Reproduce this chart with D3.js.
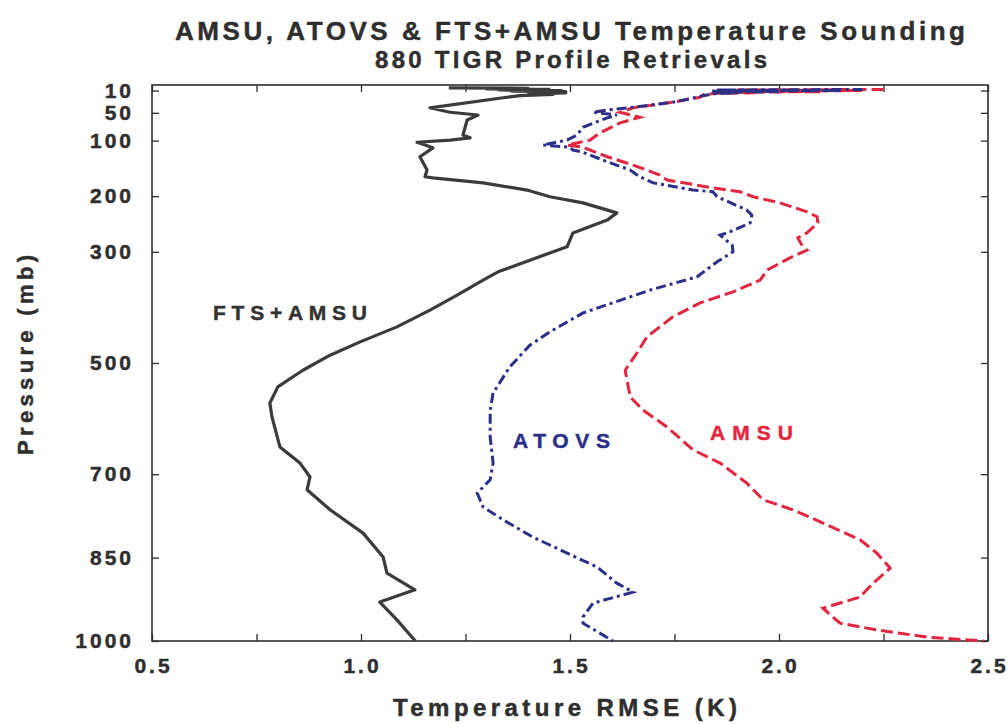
<!DOCTYPE html>
<html>
<head>
<meta charset="utf-8">
<script src="https://d3js.org/d3.v7.min.js"></script>
<style>
  body { margin: 0; background: #fff; }
  text { font-family: "Liberation Sans", Arial, sans-serif; font-weight: bold; stroke-width: 0.45; }
</style>
</head>
<body>
<svg width="1008" height="724"></svg>
<script>
// tick values
var pressureTicks = [10, 50, 100, 200, 300, 500, 700, 850, 1000];
var rmseTicks = [0.5, 1.0, 1.5, 2.0, 2.5];
var rmseMinor = [0.5, 0.75, 1.0, 1.25, 1.5, 1.75, 2.0, 2.25, 2.5];

// profiles: [pressure (mb), RMSE (K)]
var ftsAmsu = [
  [5, 1.21], [6, 1.40], [7, 1.30], [8, 1.45], [9, 1.33], [10, 1.48], [11, 1.36], [12, 1.49],
  [13, 1.40], [14, 1.49], [15, 1.45], [17, 1.46], [19, 1.38], [23, 1.34],
  [41, 1.165], [49, 1.213], [54, 1.28], [63, 1.254], [90, 1.244], [95, 1.261], [99, 1.213],
  [103, 1.134], [113, 1.172], [129, 1.141], [153, 1.158], [165, 1.153], [167, 1.172],
  [176, 1.292], [189, 1.397], [201, 1.452], [212, 1.531], [230, 1.612], [243, 1.589],
  [266, 1.507], [291, 1.493], [315, 1.404], [336, 1.328], [351, 1.292], [378, 1.230],
  [405, 1.165], [435, 1.086], [462, 0.998], [486, 0.926], [513, 0.861], [543, 0.801],
  [572, 0.782], [597, 0.787], [651, 0.806], [680, 0.854], [705, 0.878], [728, 0.871],
  [764, 0.926], [806, 1.005], [849, 1.053], [878, 1.062], [908, 1.129], [930, 1.045],
  [962, 1.086], [1000, 1.13]
];

var atovs = [
  [8, 2.20], [9, 1.85], [10, 2.15], [11, 1.84], [12, 2.0], [13, 1.84], [14, 1.9], [16, 1.84],
  [18, 1.828], [31, 1.746], [40, 1.651], [45, 1.589], [49, 1.555], [54, 1.612], [59, 1.589],
  [76, 1.531], [90, 1.517], [99, 1.493], [108, 1.435], [112, 1.5], [117, 1.507], [121, 1.531],
  [138, 1.589], [153, 1.644], [165, 1.667], [176, 1.699], [189, 1.794], [192, 1.842],
  [201, 1.852], [225, 1.923], [234, 1.935], [248, 1.931], [266, 1.876], [270, 1.859],
  [288, 1.888], [300, 1.89], [318, 1.852], [345, 1.804], [369, 1.691], [410, 1.531],
  [444, 1.452], [468, 1.404], [507, 1.356], [554, 1.316], [585, 1.309], [633, 1.309],
  [680, 1.316], [710, 1.309], [734, 1.278], [759, 1.292], [782, 1.340], [813, 1.411],
  [842, 1.493], [867, 1.565], [896, 1.612], [912, 1.651], [932, 1.555], [957, 1.531],
  [968, 1.531], [1000, 1.603]
];

var amsu = [
  [8, 2.25], [9, 1.9], [10, 2.2], [11, 1.85], [12, 2.1], [13, 1.86], [14, 1.95], [15, 1.85],
  [17, 1.82], [22, 1.811], [31, 1.746], [41, 1.651], [49, 1.620], [58, 1.667], [68, 1.620],
  [86, 1.572], [99, 1.548], [108, 1.493], [112, 1.531], [129, 1.589], [144, 1.651],
  [162, 1.715], [171, 1.732], [185, 1.842], [192, 1.907], [201, 1.938], [212, 2.002],
  [228, 2.067], [237, 2.091], [248, 2.093], [266, 2.067], [275, 2.045], [291, 2.057],
  [297, 2.067], [311, 2.026], [333, 1.971], [351, 1.955], [372, 1.890], [392, 1.811],
  [417, 1.746], [453, 1.684], [482, 1.660], [513, 1.632], [561, 1.644], [585, 1.675],
  [615, 1.732], [656, 1.794], [680, 1.859], [716, 1.923], [746, 1.962], [764, 2.033],
  [791, 2.115], [818, 2.194], [842, 2.234], [869, 2.266], [896, 2.225], [921, 2.194],
  [941, 2.105], [968, 2.146], [980, 2.234], [993, 2.354], [1000, 2.49]
];

var svg = d3.select("svg");
var plotL = 152, plotR = 988, plotT = 85, plotB = 641;

var x = d3.scaleLinear().domain([0.5, 2.5]).range([plotL, plotR]);
var y = d3.scaleLinear().domain([0, 1000]).range([plotT, plotB]);

var ink = "#2e2e2e";
var blue = "#2c2f88", red = "#e3263f";

// titles
svg.append("text").attr("x", 570).attr("y", 40).attr("text-anchor", "middle")
  .attr("font-size", 26).attr("fill", ink).attr("stroke", ink)
  .attr("textLength", 790).attr("lengthAdjust", "spacing")
  .text("AMSU, ATOVS & FTS+AMSU Temperature Sounding");
svg.append("text").attr("x", 571).attr("y", 68).attr("text-anchor", "middle")
  .attr("font-size", 24).attr("fill", ink).attr("stroke", ink)
  .attr("textLength", 392).attr("lengthAdjust", "spacing")
  .text("880 TIGR Profile Retrievals");

// axes with inward ticks
svg.append("g").attr("transform", "translate(0," + plotB + ")")
  .call(d3.axisTop(x).tickValues(rmseMinor).tickSize(7).tickFormat(""));
svg.append("g").attr("transform", "translate(0," + plotT + ")")
  .call(d3.axisBottom(x).tickValues(rmseMinor).tickSize(7).tickFormat(""));
svg.append("g").attr("transform", "translate(" + plotL + ",0)")
  .call(d3.axisRight(y).tickValues(pressureTicks).tickSize(7).tickFormat(""));
svg.append("g").attr("transform", "translate(" + plotR + ",0)")
  .call(d3.axisLeft(y).tickValues(pressureTicks).tickSize(7).tickFormat(""));
svg.selectAll(".domain").remove();
svg.selectAll(".tick line").attr("stroke", ink).attr("stroke-width", 1.3);

svg.append("rect").attr("x", plotL).attr("y", plotT)
  .attr("width", plotR - plotL).attr("height", plotB - plotT)
  .attr("fill", "none").attr("stroke", ink).attr("stroke-width", 1.6);

// tick labels
svg.append("g").selectAll("text").data(pressureTicks).enter().append("text")
  .attr("x", 134).attr("y", function (d) { return y(d) + 7; })
  .attr("text-anchor", "end").attr("font-size", 21).attr("letter-spacing", 3)
  .attr("fill", ink).attr("stroke", ink).text(function (d) { return d; });

svg.append("g").selectAll("text").data(rmseTicks).enter().append("text")
  .attr("x", function (d) { return x(d) + 1.5; }).attr("y", 673)
  .attr("text-anchor", "middle").attr("font-size", 21).attr("letter-spacing", 3)
  .attr("fill", ink).attr("stroke", ink).text(function (d) { return d3.format(".1f")(d); });

// axis titles
svg.append("text").attr("x", 565).attr("y", 716).attr("text-anchor", "middle")
  .attr("font-size", 24).attr("fill", ink).attr("stroke", ink)
  .attr("textLength", 344).attr("lengthAdjust", "spacing")
  .text("Temperature RMSE (K)");
svg.append("text").attr("transform", "translate(33,355) rotate(-90)")
  .attr("text-anchor", "middle").attr("font-size", 22).attr("fill", ink).attr("stroke", ink)
  .attr("textLength", 200).attr("lengthAdjust", "spacing")
  .text("Pressure (mb)");

// profiles
var line = d3.line()
  .x(function (d) { return x(d[1]); })
  .y(function (d) { return y(d[0]); });

svg.append("path").datum(amsu).attr("d", line)
  .attr("fill", "none").attr("stroke", red).attr("stroke-width", 3)
  .attr("stroke-dasharray", "12,5");
svg.append("path").datum(atovs).attr("d", line)
  .attr("fill", "none").attr("stroke", blue).attr("stroke-width", 3)
  .attr("stroke-dasharray", "10,4,3,4");
svg.append("path").datum(ftsAmsu).attr("d", line)
  .attr("fill", "none").attr("stroke", "#3b3b3b").attr("stroke-width", 3.2)
  .attr("stroke-linejoin", "round");

// curve labels
svg.append("text").attr("x", 213).attr("y", 320).attr("font-size", 21)
  .attr("fill", "#333").attr("stroke", "#333")
  .attr("textLength", 154).attr("lengthAdjust", "spacing")
  .text("FTS+AMSU");
svg.append("text").attr("x", 513).attr("y", 448).attr("font-size", 21)
  .attr("fill", blue).attr("stroke", blue)
  .attr("textLength", 97).attr("lengthAdjust", "spacing")
  .text("ATOVS");
svg.append("text").attr("x", 710).attr("y", 440).attr("font-size", 21)
  .attr("fill", red).attr("stroke", red)
  .attr("textLength", 83).attr("lengthAdjust", "spacing")
  .text("AMSU");
</script>
</body>
</html>
